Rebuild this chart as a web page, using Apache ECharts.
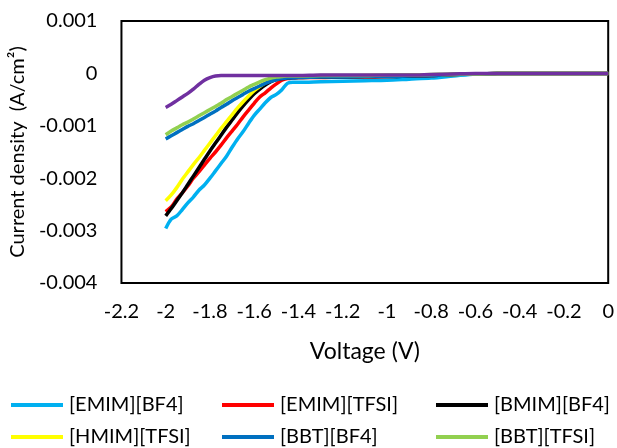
<!DOCTYPE html>
<html>
<head>
<meta charset="utf-8">
<script src="https://cdn.jsdelivr.net/npm/echarts@6/dist/echarts.min.js"></script>
<style>
html,body{margin:0;padding:0;background:#fff;}
#chart{width:617px;height:448px;}
</style>
</head>
<body>
<div id="chart"></div>
<script>
// Voltage (V)
const voltage = [-2.000,-1.975,-1.950,-1.925,-1.900,-1.875,-1.850,-1.825,-1.800,-1.775,-1.750,-1.725,-1.700,-1.675,-1.650,-1.625,-1.600,-1.575,-1.550,-1.525,-1.500,-1.475,-1.450,-1.425,-1.400,-1.300,-1.200,-1.100,-1.000,-0.900,-0.800,-0.700,-0.600,-0.500,-0.400,-0.300,-0.200,-0.100,0.000];

// Current density (A/cm2)
const emimBF4 = [-0.00296,-0.00278,-0.00272,-0.00260,-0.00247,-0.00236,-0.00223,-0.00213,-0.00200,-0.00186,-0.00172,-0.00158,-0.00141,-0.00125,-0.00111,-0.00095,-0.00080,-0.00068,-0.00056,-0.00046,-0.00040,-0.00031,-0.00019,-0.00017,-0.00017,-0.00016,-0.00015,-0.00014,-0.00013,-0.00011,-0.00009,-0.00005,-0.00001,0,0,0,0,0,0];
const emimTFSI = [-0.00264,-0.00255,-0.00240,-0.00228,-0.00215,-0.00200,-0.00188,-0.00175,-0.00162,-0.00150,-0.00137,-0.00123,-0.00110,-0.00097,-0.00083,-0.00070,-0.00057,-0.00045,-0.00037,-0.00028,-0.00020,-0.00013,-0.00010,-0.00009,-0.00008,-0.00008,-0.00007,-0.00007,-0.00006,-0.00005,-0.00004,-0.00002,-0.00001,0,0,0,0,0,0];
const bmimBF4 = [-0.00272,-0.00258,-0.00243,-0.00228,-0.00212,-0.00196,-0.00180,-0.00164,-0.00148,-0.00133,-0.00118,-0.00103,-0.00089,-0.00075,-0.00062,-0.00050,-0.00039,-0.00030,-0.00022,-0.00016,-0.00012,-0.00010,-0.00009,-0.00008,-0.00008,-0.00007,-0.00007,-0.00006,-0.00006,-0.00005,-0.00004,-0.00002,-0.00001,0,0,0,0,0,0];
const hmimTFSI = [-0.00243,-0.00232,-0.00218,-0.00202,-0.00188,-0.00174,-0.00161,-0.00147,-0.00133,-0.00119,-0.00105,-0.00092,-0.00079,-0.00066,-0.00054,-0.00043,-0.00033,-0.00025,-0.00018,-0.00013,-0.00010,-0.00008,-0.00007,-0.00006,-0.00006,-0.00005,-0.00005,-0.00004,-0.00004,-0.00003,-0.00003,-0.00002,-0.00001,0,0,0,0,0,0];
const bbtBF4 = [-0.00125,-0.00119,-0.00113,-0.00107,-0.00101,-0.00096,-0.00090,-0.00084,-0.00078,-0.00072,-0.00065,-0.00059,-0.00052,-0.00046,-0.00040,-0.00034,-0.00029,-0.00024,-0.00019,-0.00015,-0.00012,-0.00010,-0.00009,-0.00009,-0.00008,-0.00007,-0.00007,-0.00006,-0.00006,-0.00005,-0.00004,-0.00002,-0.00001,0,0,0,0,0,0];
const bbtTFSI = [-0.00117,-0.00110,-0.00104,-0.00098,-0.00093,-0.00087,-0.00081,-0.00075,-0.00069,-0.00063,-0.00057,-0.00050,-0.00044,-0.00038,-0.00032,-0.00026,-0.00021,-0.00016,-0.00012,-0.00009,-0.00007,-0.00006,-0.00005,-0.00005,-0.00005,-0.00004,-0.00004,-0.00004,-0.00003,-0.00003,-0.00002,-0.00001,-0.00001,0,0,0,0,0,0];
const purple = [-0.00065,-0.00059,-0.00052,-0.00045,-0.00038,-0.00030,-0.00021,-0.00013,-0.00008,-0.00005,-0.00004,-0.00004,-0.00004,-0.00004,-0.00004,-0.00004,-0.00004,-0.00004,-0.00004,-0.00004,-0.00004,-0.00004,-0.00004,-0.00004,-0.00004,-0.00003,-0.00003,-0.00003,-0.00003,-0.00003,-0.00002,-0.00001,0,0,0,0,0,0,0];

const seriesNames = ['[EMIM][BF4]','[EMIM][TFSI]','[BMIM][BF4]','[HMIM][TFSI]','[BBT][BF4]','[BBT][TFSI]','[BBT][other]'];
const seriesValues = [emimBF4, emimTFSI, bmimBF4, hmimTFSI, bbtBF4, bbtTFSI, purple];
const seriesColors = ['#00B0F0','#FF0000','#000000','#FFFF00','#0070C0','#92D050','#7030A0'];

const FONT = 'Lato';

const series = seriesNames.map((name, i) => ({
  name: name,
  type: 'line',
  showSymbol: false,
  smooth: 0.3,
  lineStyle: {color: seriesColors[i], width: 3.5},
  itemStyle: {color: seriesColors[i]},
  data: voltage.map((v, k) => [v, seriesValues[i][k]]),
  z: 2 + i
}));

const legendPos = [
  {left: 11, top: 395}, {left: 222, top: 395}, {left: 436, top: 395},
  {left: 11, top: 427}, {left: 222, top: 427}, {left: 436, top: 427}
];
const legends = legendPos.map((p, i) => ({
  data: [seriesNames[i]],
  left: p.left, top: p.top,
  icon: 'rect', itemWidth: 52, itemHeight: 4,
  itemGap: 0, padding: 0,
  textStyle: {fontFamily: FONT, fontSize: 20, color: '#000', padding: [0,0,0,1]}
}));

const chart = echarts.init(document.getElementById('chart'), null, {renderer: 'canvas'});
chart.setOption({
  animation: false,
  backgroundColor: '#fff',
  grid: {left: 119, right: 7, top: 21, bottom: 165, show: true, borderColor: '#000', borderWidth: 2, containLabel: false},
  legend: legends,
  xAxis: {
    type: 'value', min: -2.2, max: 0, interval: 0.2,
    name: 'Voltage (V)', nameLocation: 'middle', nameGap: 57,
    nameTextStyle: {fontFamily: FONT, fontSize: 23, color: '#000'},
    axisLine: {show: false}, axisTick: {show: false}, splitLine: {show: false},
    axisLabel: {fontFamily: FONT, fontSize: 20, color: '#000', margin: 19,
      formatter: v => String(+v.toFixed(1))}
  },
  yAxis: {
    type: 'value', min: -0.004, max: 0.001, interval: 0.001,
    name: 'Current density  (A/cm²)', nameLocation: 'middle', nameGap: 82,
    nameTextStyle: {fontFamily: FONT, fontSize: 20, color: '#000'},
    axisLine: {show: false}, axisTick: {show: false}, splitLine: {show: false},
    axisLabel: {fontFamily: FONT, fontSize: 20, color: '#000', margin: 24,
      formatter: v => String(+v.toFixed(3))}
  },
  series: series
});
</script>
</body>
</html>
